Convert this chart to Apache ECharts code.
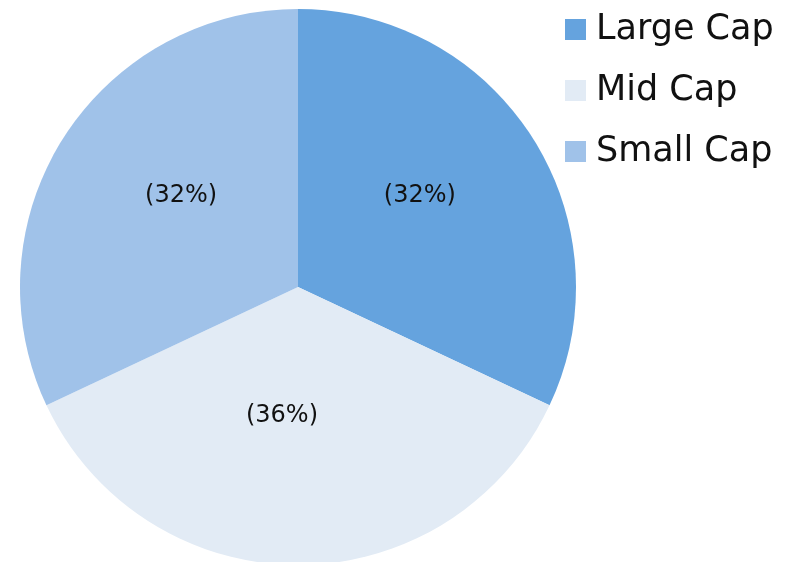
<!DOCTYPE html>
<html>
<head>
<meta charset="utf-8">
<script src="https://cdn.jsdelivr.net/npm/echarts@6/dist/echarts.min.js"></script>
<style>
  html, body { margin: 0; padding: 0; background: #fff; }
  #box { width: 805px; height: 562px; }
</style>
</head>
<body>
<div id="box"></div>
<script>
  // 数据
  var categories = ['Large Cap', 'Mid Cap', 'Small Cap'];
  var shares = [32, 36, 32];
  var colors = ['#65a3de', '#e2ebf5', '#a0c2e9'];

  var myChart = echarts.init(document.getElementById('box'));

  var pieData = categories.map(function (name, i) {
    return { name: name, value: shares[i], itemStyle: { color: colors[i] } };
  });

  // 标签微调，贴近原图位置
  var labelShift = [[2, -15], [-16, -13], [3, -15]];

  var option = {
    animation: false,
    legend: {
      orient: 'vertical',
      left: 560,
      top: 7,
      itemWidth: 21,
      itemHeight: 21,
      itemGap: 26,
      icon: 'rect',
      textStyle: {
        fontFamily: 'DejaVu Sans',
        fontSize: 35,
        color: '#111',
        padding: [0, 0, 0, 5]
      },
      data: categories
    },
    series: [{
      type: 'pie',
      center: [298, 287],
      radius: 278,
      startAngle: 90,
      clockwise: true,
      label: {
        show: true,
        position: 'inside',
        formatter: '({c}%)',
        fontFamily: 'DejaVu Sans',
        fontSize: 24,
        color: '#111'
      },
      labelLayout: function (params) {
        var s = labelShift[params.dataIndex];
        return { dx: s[0], dy: s[1] };
      },
      labelLine: { show: false },
      itemStyle: { borderWidth: 0 },
      emphasis: { disabled: true },
      data: pieData
    }]
  };

  myChart.setOption(option);
</script>
</body>
</html>
